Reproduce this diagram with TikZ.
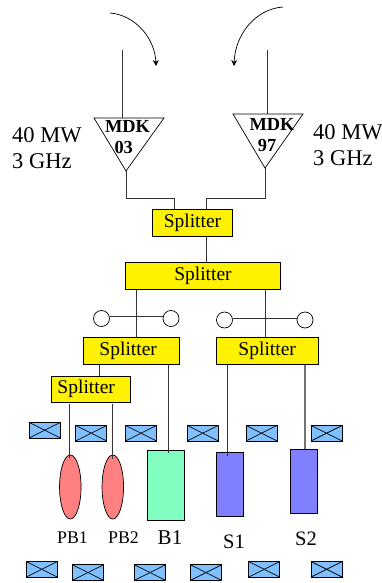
\documentclass[tikz,border=0pt]{standalone}
\usepackage{fontspec}
\setmainfont{Liberation Serif}
\usetikzlibrary{arrows.meta,shapes.geometric}
\definecolor{magnetblue}{HTML}{80C0FF}
\definecolor{pbred}{HTML}{FF8080}
\definecolor{bgreen}{HTML}{80FFC0}
\definecolor{sblue}{HTML}{8080FF}
\tikzset{
  wire/.style={line width=0.8pt,black!80},
  splitbox/.style={draw,fill=yellow,line width=0.8pt,inner sep=0pt,font=\fontsize{19.5}{22}\selectfont},
  knob/.style={draw,fill=white,circle,line width=0.7pt,inner sep=0pt,minimum size=16pt},
  magnet/.style={draw,fill=magnetblue,line width=0.8pt,inner sep=0pt,minimum width=31pt,minimum height=15.5pt,
    path picture={\draw[line width=0.7pt] (path picture bounding box.north west) -- (path picture bounding box.south east);
      \draw[line width=0.7pt] (path picture bounding box.south west) -- (path picture bounding box.north east);}},
  bunch/.style={draw,fill=pbred,ellipse,line width=0.7pt,inner sep=0pt,minimum width=21.5pt,minimum height=64pt},
  section/.style={draw,line width=0.8pt,inner sep=0pt},
  power/.style={align=left,anchor=west,inner sep=0pt,font=\fontsize{22.5}{26}\selectfont},
  mdk/.style={inner sep=0pt,font=\bfseries\fontsize{18.4}{20}\selectfont},
}
\begin{document}
\begin{tikzpicture}[x=1pt,y=-1pt]
\useasboundingbox (0,0) rectangle (382,583);
% incoming lines and klystrons
\coordinate (inL) at (122,50);
\coordinate (inR) at (267.5,50);
\coordinate (tipL) at (126,171);
\coordinate (tipR) at (265,168);
\coordinate (arrL) at (110,13);
\coordinate (arrR) at (283,7);
\coordinate (endL) at (156,66);
\coordinate (endR) at (234,66);
\draw[line width=0.7pt] (94,118) -- (164,118) -- (tipL) -- cycle;
\draw[line width=0.7pt] (233,114) -- (303,114) -- (tipR) -- cycle;
\draw[wire] (inL) -- (122,118);
\draw[wire] (inR) -- (267.5,114);
\draw[line width=0.7pt,-{Stealth[length=6pt,width=6pt]}] (arrL) .. controls (135,15) and (155,38) .. (endL);
\draw[line width=0.7pt,-{Stealth[length=6pt,width=6pt]}] (arrR) .. controls (255,9) and (235,35) .. (endR);
\node[mdk] (mdkLa) at (127.5,126.7) {MDK};
\node[mdk] (mdkLb) at (123.7,147) {03};
\node[mdk] (mdkRa) at (272,124) {MDK};
\node[mdk] (mdkRb) at (267,145.5) {97};
\node[power] (powL) at (12,148) {40 MW\\3 GHz};
\node[power] (powR) at (313,145) {40 MW\\3 GHz};
% splitters
\node[splitbox,minimum width=80pt,minimum height=27pt] (sp1) at (192.5,222.5) {Splitter};
\node[splitbox,minimum width=155pt,minimum height=26.5pt] (sp2) at (203,276) {Splitter};
\node[splitbox,minimum width=96.5pt,minimum height=27pt] (sp3) at (131.2,351) {\hspace*{-6pt}Splitter};
\node[splitbox,minimum width=101.5pt,minimum height=27pt] (sp4) at (267.2,351) {Splitter};
\node[splitbox,minimum width=79.5pt,minimum height=26.5pt] (sp5) at (90.7,389.2) {\hspace*{-9pt}Splitter};
\draw[wire] (tipL) |- (174,198.5) -- (174,0 |- sp1.north);
\draw[wire] (tipR) |- (206,198.5) -- (206,0 |- sp1.north);
\draw[wire] (206,0 |- sp1.south) -- (206,0 |- sp2.north);
\draw[wire] (136.5,0 |- sp2.south) -- (136.5,0 |- sp3.north);
\draw[wire] (265,0 |- sp2.south) -- (265,0 |- sp4.north);
\draw[wire] (99,0 |- sp3.south) -- (99,0 |- sp5.north);
% tuners
\node[knob] (knA) at (101.5,318.5) {};
\node[knob] (knB) at (171,318.5) {};
\node[knob] (knC) at (224.5,320) {};
\node[knob] (knD) at (305,320) {};
\draw[wire] (knA.east |- 0,316) -- (knB.west |- 0,316);
\draw[wire] (knC.east |- 0,318) -- (knD.west |- 0,318);
% magnets, upper row
\foreach \nm/\px/\py in {a/44.7/430.2,b/91.2/433.2,c/141/433.2,d/202.8/433.2,e/261.5/433.2,f/326.6/433.2}
  \node[magnet] (up\nm) at (\px,\py) {};
% magnets, lower row
\foreach \nm/\px/\py in {a/41.7/569.3,b/88/572.6,c/150/572.6,d/206/572.6,e/264.3/569.3,f/326.6/569.3}
  \node[magnet] (lo\nm) at (\px,\py) {};
% sections
\node[bunch] (pb1) at (70.3,487) {};
\node[bunch] (pb2) at (112.8,487) {};
\node[section,fill=bgreen,minimum width=37.7pt,minimum height=69.5pt] (b1) at (165.9,485.2) {};
\node[section,fill=sblue,minimum width=27pt,minimum height=64.2pt] (s1) at (230,484.6) {};
\node[section,fill=sblue,minimum width=27pt,minimum height=64pt] (s2) at (303.8,481.5) {};
\draw[wire] (69.5,404) -- (69.5,458);
\draw[wire] (112.7,404) -- (112.7,459);
\draw[wire] (168.7,0 |- sp3.south) -- (168.7,453);
\draw[wire] (227.3,0 |- sp4.south) -- (227.3,456);
\draw[line width=1.2pt,black!55] (305,0 |- sp4.south) -- (305,0 |- s2.north);
\node[inner sep=0pt,font=\fontsize{17.8}{20}\selectfont] (lbPa) at (72.5,538) {PB1};
\node[inner sep=0pt,font=\fontsize{17.8}{20}\selectfont] (lbPb) at (123.5,538) {PB2};
\node[inner sep=0pt,font=\fontsize{21}{24}\selectfont] (lbB) at (170,538) {B1};
\node[inner sep=0pt,font=\fontsize{20.5}{24}\selectfont] (lbSa) at (234,542) {S1};
\node[inner sep=0pt,font=\fontsize{20.5}{24}\selectfont] (lbSb) at (306,538.5) {S2};
\end{tikzpicture}
\end{document}
